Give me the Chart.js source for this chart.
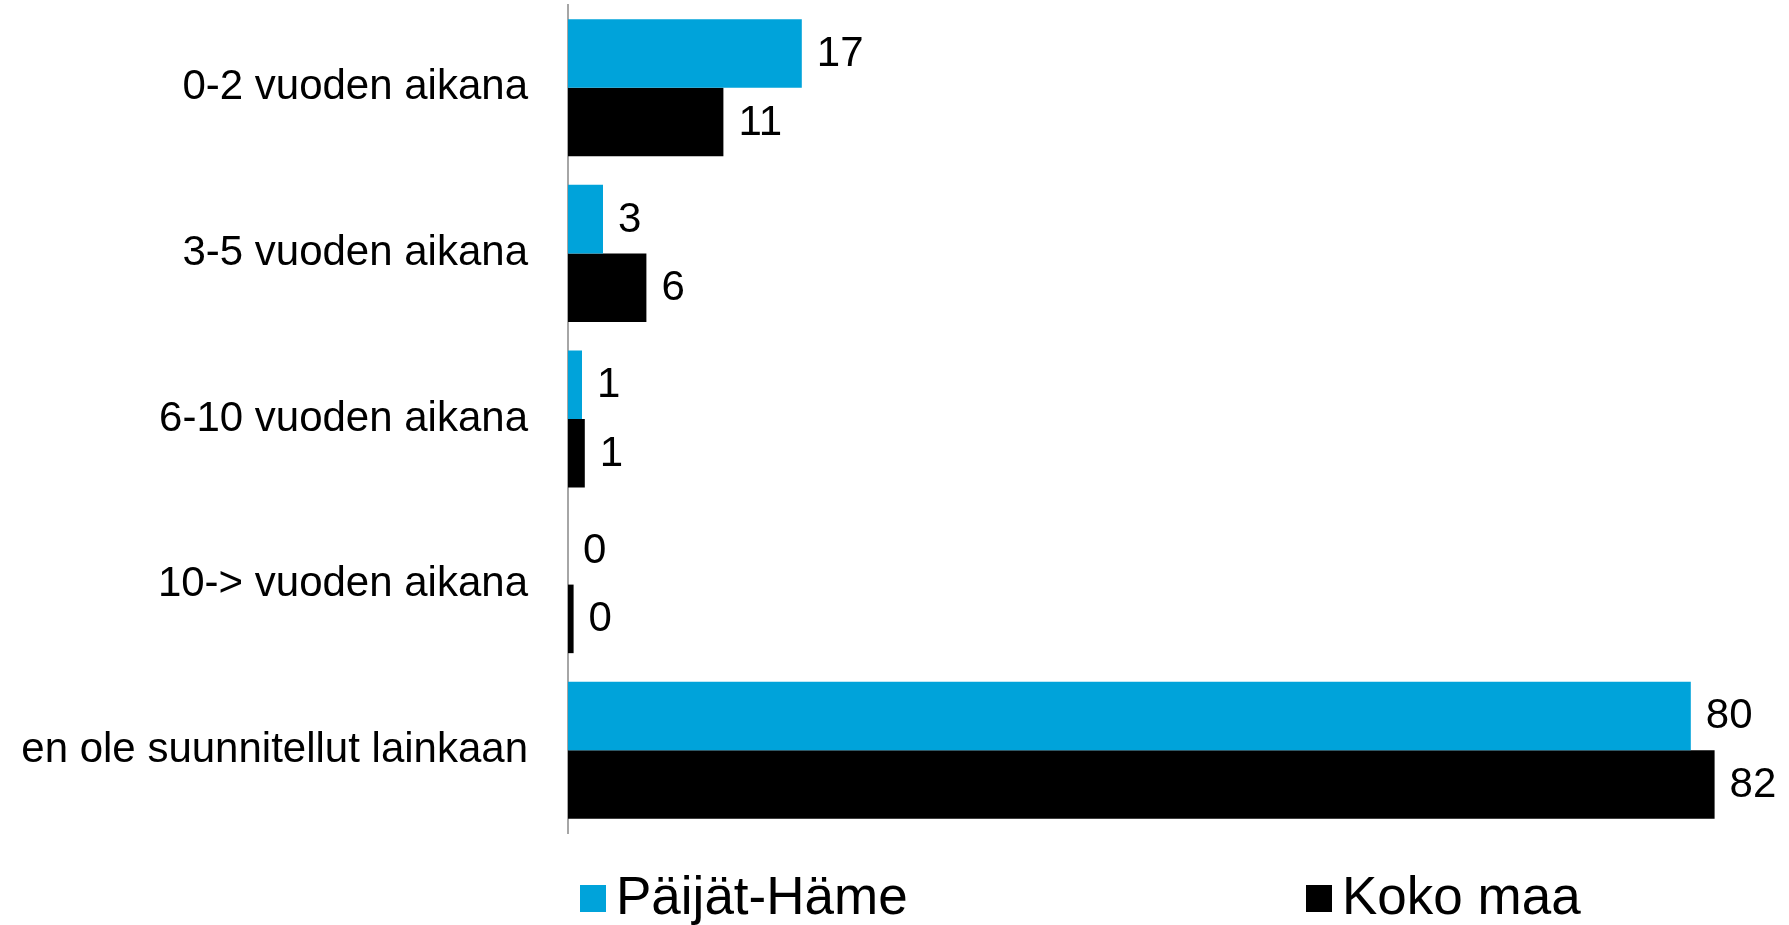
<!DOCTYPE html>
<html>
<head>
<meta charset="utf-8">
<script src="https://cdn.jsdelivr.net/npm/chart.js@4/dist/chart.umd.min.js"></script>
<style>
  html, body { margin: 0; padding: 0; background: #fff; }
  canvas { display: block; }
</style>
</head>
<body>
<canvas id="chart" width="1789" height="925"></canvas>
<script>
// categories and values
const categories = [
  "0-2 vuoden aikana",
  "3-5 vuoden aikana",
  "6-10 vuoden aikana",
  "10-> vuoden aikana",
  "en ole suunnitellut lainkaan",
];
const paijatHame = [16.7, 2.5, 1.0, 0, 80.2];
const kokoMaa = [11.1, 5.6, 1.2, 0.4, 81.9];
const seriesNames = ["Päijät-Häme", "Koko maa"];

const FONT = "'Liberation Sans', Arial, sans-serif";

// value labels after each bar end
const valueLabels = {
  id: "valueLabels",
  afterDatasetsDraw(chart) {
    const ctx = chart.ctx;
    ctx.save();
    ctx.font = "42px " + FONT;
    ctx.fillStyle = "#000";
    ctx.textAlign = "left";
    ctx.textBaseline = "middle";
    chart.data.datasets.forEach((ds, i) => {
      chart.getDatasetMeta(i).data.forEach((bar, j) => {
        ctx.fillText(String(Math.round(ds.data[j])), bar.x + 15, bar.y + 1);
      });
    });
    ctx.restore();
  },
};

// legend at the bottom, two items far apart
const bottomLegend = {
  id: "bottomLegend",
  afterDraw(chart, args, opts) {
    const ctx = chart.ctx;
    ctx.save();
    ctx.font = "53px " + FONT;
    ctx.textBaseline = "alphabetic";
    chart.data.datasets.forEach((ds, i) => {
      const x = opts.x[i];
      ctx.fillStyle = ds.backgroundColor;
      ctx.fillRect(x, 885, 26, 27);
      ctx.fillStyle = "#000";
      ctx.fillText(ds.label, x + 36, 914);
    });
    ctx.restore();
  },
};

new Chart(document.getElementById("chart"), {
  type: "bar",
  data: {
    labels: categories,
    datasets: [
      { label: seriesNames[0], data: paijatHame, backgroundColor: "#00A3DA" },
      { label: seriesNames[1], data: kokoMaa, backgroundColor: "#000000" },
    ],
  },
  options: {
    indexAxis: "y",
    responsive: false,
    animation: false,
    devicePixelRatio: 1,
    categoryPercentage: 0.828,
    barPercentage: 1.0,
    layout: { padding: { top: 5, bottom: 92, left: 0, right: 31 } },
    scales: {
      x: { display: false, min: 0, max: 85 },
      y: {
        grid: { display: false, drawTicks: false },
        border: { display: true, color: "#a6a6a6", width: 2 },
        ticks: {
          color: "#000",
          padding: 40,
          font: { family: FONT, size: 42 },
        },
        afterFit: (scale) => {
          scale.width = 568;
          scale.paddingTop = 0;
          scale.paddingBottom = 0;
        },
      },
    },
    plugins: {
      legend: { display: false },
      tooltip: { enabled: false },
      bottomLegend: { x: [580, 1306] },
    },
  },
  plugins: [valueLabels, bottomLegend],
});
</script>
</body>
</html>
